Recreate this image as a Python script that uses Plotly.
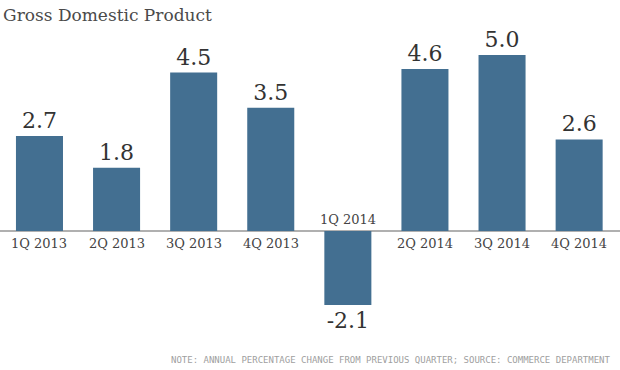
import plotly.graph_objects as go

categories = ["1Q 2013", "2Q 2013", "3Q 2013", "4Q 2013", "1Q 2014", "2Q 2014", "3Q 2014", "4Q 2014"]
gdp_values = [2.7, 1.8, 4.5, 3.5, -2.1, 4.6, 5.0, 2.6]
value_labels = ["2.7", "1.8", "4.5", "3.5", "-2.1", "4.6", "5.0", "2.6"]

title_text = "Gross Domestic Product"
note_text = "NOTE: ANNUAL PERCENTAGE CHANGE FROM PREVIOUS QUARTER; SOURCE: COMMERCE DEPARTMENT"

BAR = "#436f91"
TXT = "#444444"
SERIF = "DejaVu Serif"

fig = go.Figure()
fig.add_trace(go.Bar(
    x=list(range(len(categories))),
    y=gdp_values,
    text=value_labels,
    textposition="outside",
    textfont=dict(family=SERIF, size=22, color="#333333"),
    constraintext="none",
    cliponaxis=False,
    marker=dict(color=BAR, line=dict(width=0)),
    width=0.61,
    hoverinfo="skip",
))

annotations = []
for i, (c, v) in enumerate(zip(categories, gdp_values)):
    if v >= 0:
        annotations.append(dict(x=i, y=0, xref="x", yref="y", text=c, showarrow=False,
                                yanchor="top", yshift=-3,
                                font=dict(family=SERIF, size=13, color=TXT)))
    else:
        annotations.append(dict(x=i, y=0, xref="x", yref="y", text=c, showarrow=False,
                                yanchor="bottom", yshift=2,
                                font=dict(family=SERIF, size=13, color=TXT)))

annotations.append(dict(x=612/620, y=-0.0625, xref="paper", yref="paper", text=note_text,
                        showarrow=False, xanchor="right", yanchor="middle",
                        font=dict(family="DejaVu Sans Mono", size=9, color="#a0a0a0")))

fig.update_layout(
    width=620, height=370,
    margin=dict(l=0, r=0, t=20, b=30),
    paper_bgcolor="white", plot_bgcolor="white",
    showlegend=False,
    title=dict(text=title_text, x=0.005, xanchor="left", xref="container",
               y=1 - 15/370, yanchor="middle", yref="container",
               font=dict(family=SERIF, size=17, color="#4a4a4a")),
    xaxis=dict(range=[-0.512, 7.53], showticklabels=False, showgrid=False,
               zeroline=False, showline=False, ticks="", fixedrange=True),
    yaxis=dict(range=[-3.097, 5.994], showticklabels=False, showgrid=False,
               zeroline=True, zerolinecolor="#b0b0b0", zerolinewidth=1.5,
               showline=False, ticks="", fixedrange=True),
    annotations=annotations,
)

fig.write_html("out.html", config={"displayModeBar": False},
               post_script="document.body.style.margin='0';document.body.style.overflow='hidden';")
